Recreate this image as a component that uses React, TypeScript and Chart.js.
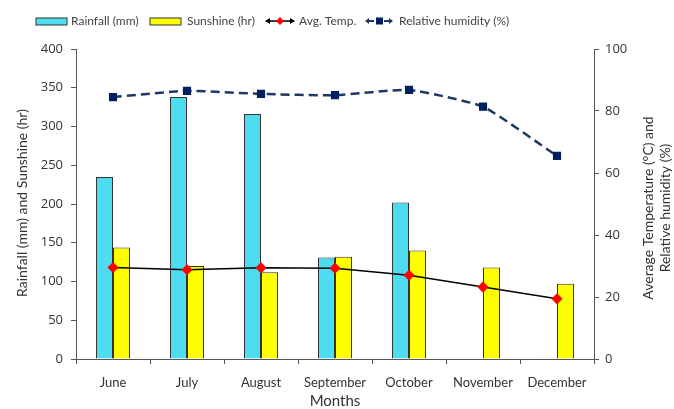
import React, { useEffect, useRef } from "react";
import { Chart, registerables } from "chart.js";
Chart.register(...registerables);

const months = ["June", "July", "August", "September", "October", "November", "December"];
const rainfall = [235, 338, 316, 131, 202, 0, 1];
const sunshine = [144, 120, 112, 132, 140, 118, 97];
const avgTemp = [29.5, 28.8, 29.4, 29.3, 27, 23.2, 19.4];
const humidity = [84.5, 86.5, 85.5, 85.1, 86.8, 81.4, 65.5];
const leftTicks = [0, 50, 100, 150, 200, 250, 300, 350, 400];
const rightTicks = [0, 20, 40, 60, 80, 100];

const FONT = "'Open Sans', 'DejaVu Sans', sans-serif";
const LFONT = "Lato, 'Open Sans', sans-serif";
const TXT = "#333";

const decor = {
  id: "decor",
  afterDraw(chart: any) {
    const ctx = chart.ctx;
    const a = chart.chartArea;
    ctx.save();
    ctx.fillStyle = TXT;
    ctx.textBaseline = "middle";
    // left title
    ctx.font = `14px ${LFONT}`;
    ctx.save();
    ctx.translate(22, 203);
    ctx.rotate(-Math.PI / 2);
    ctx.textAlign = "center";
    ctx.fillText("Rainfall (mm) and Sunshine (hr)", 0, 0);
    ctx.restore();
    // right title
    ctx.save();
    ctx.translate(648, 208);
    ctx.rotate(-Math.PI / 2);
    ctx.textAlign = "center";
    ctx.fillText("Average Temperature (°C) and", 0, 0);
    ctx.fillText("Relative humidity (%)", 0, 17);
    ctx.restore();
    // x title
    ctx.font = `15px ${LFONT}`;
    ctx.textAlign = "center";
    ctx.fillText("Months", (a.left + a.right) / 2, 401);
    // legend
    ctx.font = `12px ${LFONT}`;
    ctx.textAlign = "left";
    const ly = 21;
    ctx.lineWidth = 1;
    ctx.strokeStyle = "#333";
    ctx.fillStyle = "#4DDCF0";
    ctx.fillRect(36, 18, 31, 7);
    ctx.strokeRect(36, 18, 31, 7);
    ctx.fillStyle = "#FFFF00";
    ctx.fillRect(150, 18, 31, 7);
    ctx.strokeRect(150, 18, 31, 7);
    ctx.fillStyle = "#444";
    ctx.fillText("Rainfall (mm)", 71, ly);
    ctx.fillText("Sunshine (hr)", 187, ly);
    ctx.fillText("Avg. Temp.", 299, ly);
    ctx.fillText("Relative humidity (%)", 399, ly);
    const arrowLine = (x1: number, x2: number, color: string, w: number) => {
      ctx.strokeStyle = color;
      ctx.fillStyle = color;
      ctx.lineWidth = w;
      ctx.beginPath();
      ctx.moveTo(x1 + 3, ly);
      ctx.lineTo(x2 - 3, ly);
      ctx.stroke();
      ctx.beginPath();
      ctx.moveTo(x1, ly);
      ctx.lineTo(x1 + 5, ly - 3);
      ctx.lineTo(x1 + 5, ly + 3);
      ctx.closePath();
      ctx.fill();
      ctx.beginPath();
      ctx.moveTo(x2, ly);
      ctx.lineTo(x2 - 5, ly - 3);
      ctx.lineTo(x2 - 5, ly + 3);
      ctx.closePath();
      ctx.fill();
    };
    arrowLine(265, 295, "#000", 1.5);
    ctx.fillStyle = "#FF0000";
    ctx.beginPath();
    ctx.moveTo(280, ly - 4);
    ctx.lineTo(284, ly);
    ctx.lineTo(280, ly + 4);
    ctx.lineTo(276, ly);
    ctx.closePath();
    ctx.fill();
    // humidity legend
    ctx.strokeStyle = "#1F3864";
    ctx.fillStyle = "#1F3864";
    ctx.lineWidth = 2;
    ctx.beginPath(); ctx.moveTo(368, ly); ctx.lineTo(374, ly); ctx.stroke();
    ctx.beginPath(); ctx.moveTo(384, ly); ctx.lineTo(390, ly); ctx.stroke();
    ctx.beginPath(); ctx.moveTo(365, ly); ctx.lineTo(369, ly - 3); ctx.lineTo(369, ly + 3); ctx.closePath(); ctx.fill();
    ctx.beginPath(); ctx.moveTo(393, ly); ctx.lineTo(389, ly - 3); ctx.lineTo(389, ly + 3); ctx.closePath(); ctx.fill();
    ctx.fillStyle = "#002060";
    ctx.fillRect(376, ly - 3.5, 7, 7);
    ctx.restore();
  },
};

export default function App() {
  const ref = useRef<HTMLCanvasElement>(null);
  useEffect(() => {
    document.body.style.margin = "0";
    const chart = new Chart(ref.current!, {
      type: "bar",
      data: {
        labels: months,
        datasets: [
          {
            type: "line",
            label: "Relative humidity (%)",
            data: humidity,
            yAxisID: "y1",
            borderColor: "#1F3864",
            borderWidth: 2.5,
            borderDash: [9, 5],
            pointStyle: "rect",
            pointRadius: 4,
            pointBackgroundColor: "#002060",
            pointBorderColor: "#002060",
            tension: 0.15,
            order: 0,
          } as any,
          {
            type: "line",
            label: "Avg. Temp.",
            data: avgTemp,
            yAxisID: "y1",
            borderColor: "#000",
            borderWidth: 1.5,
            pointStyle: "rectRot",
            pointRadius: 4.5,
            pointBackgroundColor: "#FF0000",
            pointBorderColor: "#FF0000",
            order: 1,
          } as any,
          {
            label: "Rainfall (mm)",
            data: rainfall,
            yAxisID: "y",
            backgroundColor: "#4DDCF0",
            borderColor: "#333",
            borderWidth: 1,
            categoryPercentage: 0.46,
            barPercentage: 1,
            order: 2,
          },
          {
            label: "Sunshine (hr)",
            data: sunshine,
            yAxisID: "y",
            backgroundColor: "#FFFF00",
            borderColor: "#333",
            borderWidth: 1,
            categoryPercentage: 0.46,
            barPercentage: 1,
            order: 3,
          },
        ],
      },
      options: {
        animation: false,
        responsive: false,
        layout: { padding: { top: 49, left: 0, right: 0, bottom: 0 } },
        plugins: { legend: { display: false }, tooltip: { enabled: false } },
        scales: {
          x: {
            offset: true,
            afterFit: (s: any) => { s.height = 50; },
            grid: { display: true, drawOnChartArea: false, drawTicks: true, tickLength: 5, offset: true, color: "#555" },
            border: { color: "#555", width: 1 },
            ticks: { color: TXT, font: { family: LFONT, size: 13 }, padding: 11 },
          },
          y: {
            position: "left",
            min: 0,
            max: 400,
            afterFit: (s: any) => { s.width = 76; },
            afterBuildTicks: (s: any) => { s.ticks = leftTicks.map((v) => ({ value: v })); },
            grid: { display: true, drawOnChartArea: false, drawTicks: true, tickLength: 5, color: "#555" },
            border: { color: "#555", width: 1 },
            ticks: { color: TXT, font: { family: FONT, size: 13 }, padding: 8 },
          },
          y1: {
            position: "right",
            min: 0,
            max: 100,
            afterFit: (s: any) => { s.width = 80; },
            afterBuildTicks: (s: any) => { s.ticks = rightTicks.map((v) => ({ value: v })); },
            grid: { display: true, drawOnChartArea: false, drawTicks: true, tickLength: 5, color: "#555" },
            border: { color: "#555", width: 1 },
            ticks: { color: TXT, font: { family: FONT, size: 13 }, padding: 6 },
          },
        },
      },
      plugins: [decor],
    });
    return () => chart.destroy();
  }, []);
  return <canvas ref={ref} width={674} height={409} style={{ display: "block" }} />;
}
